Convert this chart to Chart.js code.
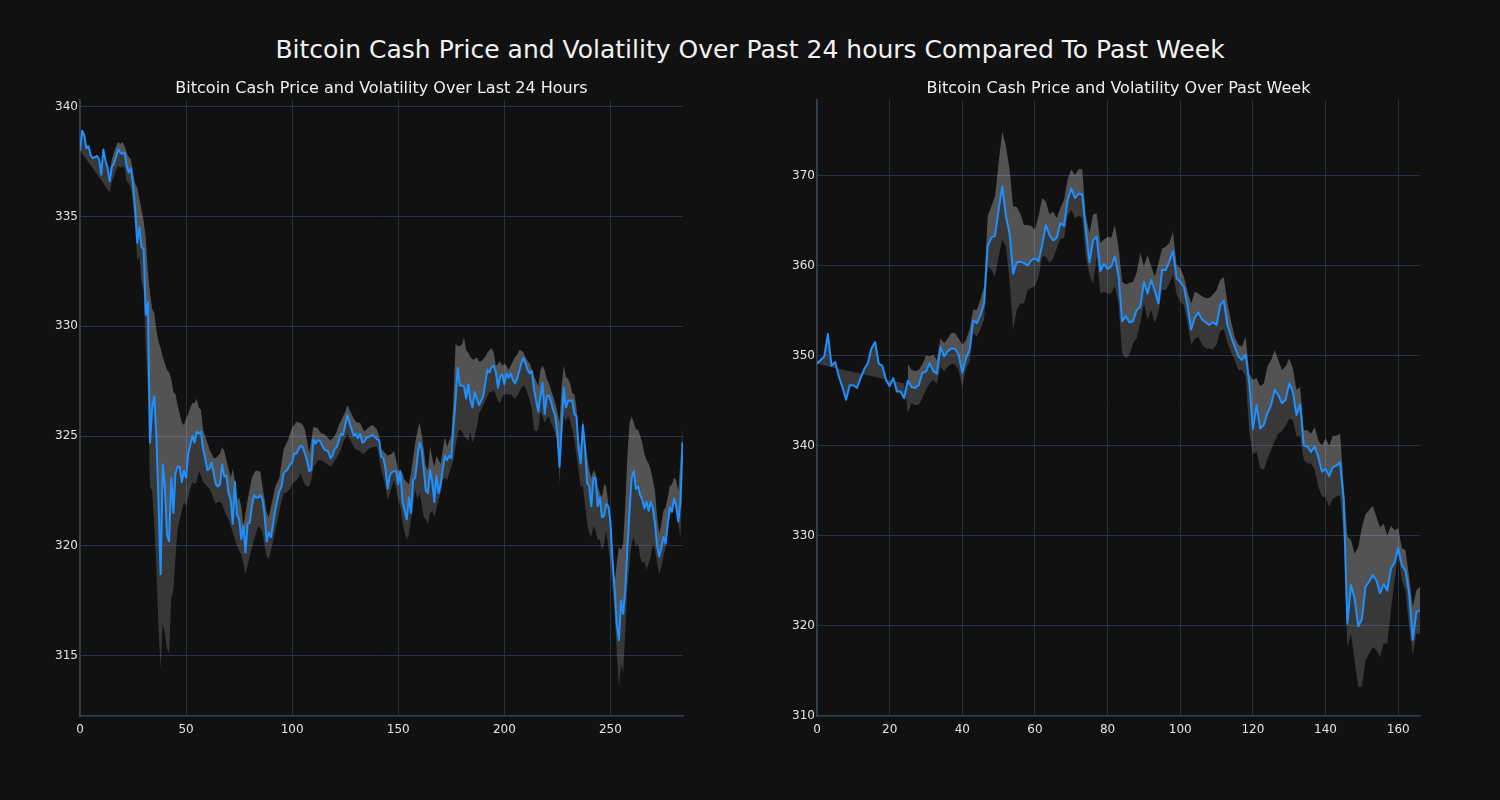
<!DOCTYPE html>
<html><head><meta charset="utf-8">
<script src="https://cdn.jsdelivr.net/npm/chart.js@4.4.1/dist/chart.umd.min.js"></script>
<style>
html,body{margin:0;padding:0;background:#111111;width:1500px;height:800px;overflow:hidden;}
#title{position:absolute;left:0;top:34px;width:1500px;text-align:center;font-family:'DejaVu Sans';font-size:25px;color:#f2f2f2;line-height:32px;white-space:nowrap;}
canvas{position:absolute;top:0;}
#c1{left:0px} #c2{left:750px}
</style></head><body>
<div id="title">Bitcoin Cash Price and Volatility Over Past 24 hours Compared To Past Week</div>
<canvas id="c1" width="750" height="800"></canvas>
<canvas id="c2" width="750" height="800"></canvas>
<script>
// ---- Left chart: last 24 hours (5-minute steps) ----
const dayTitle = 'Bitcoin Cash Price and Volatility Over Last 24 Hours';
const dayXTicks = [0, 50, 100, 150, 200, 250];
const dayYTicks = [315, 320, 325, 330, 335, 340];
const dayPrice = [
338.0,338.9,338.7,338.1,338.2,337.8,337.65,337.7,337.75,337.6,
336.9,338.05,337.55,337.2,336.6,337.25,337.4,337.7,338.05,337.9,
337.85,337.9,337.3,337.0,337.2,336.4,335.3,333.8,334.5,333.6,
333.5,330.5,331.1,324.7,326.3,326.8,325.0,322.0,318.7,323.7,
322.7,320.5,320.2,323.1,321.5,323.3,323.6,323.6,322.9,323.4,
323.1,324.2,324.6,325.0,324.7,325.2,325.1,325.2,324.4,324.0,
323.45,323.5,323.8,323.3,322.8,322.7,322.8,323.7,323.15,323.2,
322.4,322.1,321.0,322.9,321.4,321.2,320.3,320.9,319.7,321.0,
321.05,321.8,322.3,322.2,322.2,322.3,322.1,321.4,320.2,320.6,
320.4,321.0,321.6,322.1,322.5,322.7,323.3,323.4,323.5,323.7,
323.8,324.2,324.2,324.4,324.55,324.5,324.2,323.9,323.4,323.45,
324.85,324.65,324.8,324.8,324.6,324.4,324.35,324.3,324.0,324.1,
324.4,324.5,324.8,325.1,325.05,325.5,325.95,325.6,325.3,325.0,
325.1,324.9,325.1,324.7,324.75,324.9,324.95,325.0,325.05,324.95,
324.85,324.8,324.05,324.0,323.5,322.6,323.2,323.35,323.4,323.4,
322.8,323.4,322.0,321.6,321.2,322.2,321.5,323.0,323.1,324.0,
324.7,324.4,323.5,322.5,322.4,323.45,322.9,322.0,323.2,322.4,
322.8,323.5,324.1,323.9,324.1,324.0,325.4,326.6,328.1,327.3,
327.3,327.25,326.7,327.35,326.6,326.3,327.0,326.7,326.4,326.6,
326.8,327.4,328.0,327.9,328.15,328.2,327.9,327.2,327.7,327.8,
327.35,327.85,327.65,327.85,327.55,327.4,327.6,327.95,328.3,328.55,
328.3,328.0,327.85,327.95,327.1,326.6,326.1,326.8,327.4,326.0,
326.8,326.85,326.55,326.2,325.9,325.1,323.6,325.4,327.2,326.3,
326.6,326.6,326.6,326.0,325.9,324.4,323.75,325.5,324.5,322.85,
322.7,321.8,323.1,323.1,321.8,322.2,321.3,321.35,321.9,321.8,
321.1,319.3,318.0,316.4,315.7,317.5,316.9,318.0,319.9,321.6,
323.1,323.4,322.6,322.7,322.3,322.1,321.7,322.0,321.6,322.0,
321.7,321.0,320.0,319.5,319.9,320.4,320.1,321.0,321.75,321.55,
322.15,321.8,321.1,322.0,324.7
];
const dayUpper = [
null,null,null,null,null,null,null,null,null,null,
null,null,null,null,337.0,337.6,337.9,338.2,338.4,338.3,
338.4,338.2,337.9,337.7,337.6,337.0,336.5,336.3,335.8,335.3,
334.8,334.0,332.5,331.5,330.8,330.6,329.8,329.3,329.0,328.6,
328.3,328.0,327.9,327.6,327.0,326.9,326.4,326.0,325.6,325.5,
325.8,326.0,326.3,326.5,326.5,326.7,326.3,326.2,325.3,325.0,
324.7,324.4,324.2,324.0,324.0,324.1,324.2,324.5,324.3,323.9,
323.5,323.1,323.5,323.0,322.1,322.2,321.8,320.9,321.5,322.1,
322.6,323.1,323.3,323.45,323.4,323.4,322.7,322.1,321.5,321.3,
321.8,322.2,322.7,322.9,323.1,323.8,324.4,324.6,324.8,325.1,
325.4,325.5,325.65,325.6,325.6,325.5,325.3,324.8,324.2,324.8,
325.4,325.4,325.35,325.2,325.1,325.1,325.0,324.9,324.8,324.9,
325.0,325.2,325.5,325.7,325.9,326.1,326.4,326.2,326.0,325.8,
325.65,325.6,325.6,325.4,325.2,325.3,325.4,325.45,325.5,325.4,
325.3,325.0,324.4,324.3,324.2,324.1,324.15,324.2,324.3,323.9,
323.45,323.4,323.3,323.0,322.9,322.8,323.3,324.0,324.7,325.2,
325.6,325.1,324.4,323.6,323.45,324.5,324.0,323.6,324.1,323.9,
323.75,324.4,324.97,324.5,324.8,325.0,326.6,329.2,329.1,329.1,
329.15,329.5,328.9,328.8,328.6,328.5,328.5,328.6,328.4,328.4,
328.5,328.6,328.8,328.9,329.0,328.8,328.2,328.3,328.4,328.2,
328.3,328.2,328.0,328.2,328.4,328.6,328.7,328.9,328.9,328.8,
328.6,328.4,328.3,328.0,327.7,327.5,327.25,328.0,328.2,328.0,
327.6,327.4,327.1,326.8,326.5,326.1,325.6,327.25,328.2,327.7,
327.6,327.4,326.95,326.9,326.3,324.8,324.5,325.8,324.8,324.1,
323.45,323.1,323.45,323.3,322.7,322.4,322.2,322.8,322.7,321.9,
320.4,319.2,318.3,319.2,319.95,319.8,320.1,321.9,324.1,325.6,
325.9,325.6,325.3,325.3,325.0,324.7,324.2,323.9,323.75,323.45,
323.0,322.5,321.3,320.55,321.0,321.6,321.75,322.2,322.7,322.8,
323.1,323.0,322.5,323.9,325.4
];
const dayLower = [
338.0,null,null,null,null,null,null,null,null,null,
null,null,null,null,336.1,336.6,336.8,337.1,337.3,337.2,
337.3,337.2,336.6,336.5,336.3,335.6,334.5,333.0,333.2,332.0,
331.6,329.0,327.0,322.7,322.5,321.0,319.0,316.2,314.4,316.5,
316.0,315.3,315.1,317.6,318.0,319.5,320.8,321.2,321.6,322.0,
321.8,322.2,322.6,322.9,322.8,322.9,323.4,323.2,322.9,322.8,
322.7,322.6,322.4,322.1,321.9,322.0,322.0,321.9,321.6,321.4,
321.2,320.9,320.6,320.3,320.0,319.8,319.6,319.2,318.7,319.1,
319.5,319.9,320.3,320.6,320.9,320.8,320.6,320.0,319.5,319.4,
319.8,320.2,320.7,321.1,321.6,322.0,322.4,322.4,322.5,322.6,
322.8,322.9,323.0,323.1,323.3,323.0,322.8,322.7,322.7,323.0,
323.6,323.7,323.9,323.9,323.9,323.8,323.75,323.7,323.6,323.7,
323.9,324.0,324.2,324.4,324.7,324.9,325.1,324.9,324.7,324.5,
324.4,324.35,324.3,324.2,324.2,324.3,324.4,324.45,324.5,324.5,
324.5,324.0,323.45,323.1,322.7,322.1,322.4,322.7,323.0,322.6,
322.1,321.8,321.05,320.6,320.3,320.5,321.2,321.8,322.6,322.1,
322.4,321.9,321.3,321.2,321.0,321.5,321.6,321.3,321.7,322.1,
322.4,323.0,323.1,323.0,323.3,323.6,323.9,324.5,325.1,325.3,
325.2,325.0,324.9,324.8,325.2,324.7,325.0,325.4,326.0,326.2,
326.4,326.6,326.8,327.0,327.0,327.1,326.9,326.6,326.5,326.8,
326.9,326.9,326.9,326.9,326.8,326.7,326.8,327.0,327.2,327.3,
327.2,326.9,326.6,326.2,325.3,325.2,325.3,326.1,325.9,325.6,
325.8,325.9,325.6,325.4,325.1,324.8,322.8,324.8,325.9,325.7,
325.9,325.7,325.3,324.8,324.1,323.4,322.7,322.7,321.9,321.0,
320.6,320.4,320.9,320.7,320.25,320.3,319.8,320.1,320.7,319.95,
319.2,318.0,316.9,315.1,313.55,314.6,314.2,316.1,318.1,319.2,
320.1,320.4,319.95,320.1,319.5,319.2,319.3,318.9,319.2,319.5,
320.1,319.8,319.2,318.7,319.0,319.5,319.95,320.7,321.3,321.6,
322.0,321.8,321.0,320.4,323.0
];

// ---- Right chart: past week (hourly steps) ----
const weekTitle = 'Bitcoin Cash Price and Volatility Over Past Week';
const weekXTicks = [0, 20, 40, 60, 80, 100, 120, 140, 160];
const weekYTicks = [310, 320, 330, 340, 350, 360, 370];
const weekPrice = [
349.1,349.5,349.9,352.4,348.85,349.3,347.7,346.5,345.1,346.7,
346.7,346.4,347.5,348.5,349.15,350.8,351.5,349.1,348.85,347.3,
346.6,347.5,346.0,346.0,345.25,347.2,346.5,346.4,346.7,348.1,
348.2,349.15,348.3,348.0,350.9,349.9,350.5,350.8,350.75,350.1,
348.1,349.7,350.6,353.9,353.6,354.5,355.8,362.2,363.1,363.3,
366.2,368.8,365.5,363.6,359.1,360.4,360.4,360.3,360.0,360.6,
360.8,360.5,362.3,364.5,363.4,362.8,363.1,364.7,364.4,367.3,
368.55,367.5,368.0,367.9,364.0,360.35,362.8,363.2,359.4,360.2,
359.6,359.9,361.0,358.9,353.8,354.4,353.7,353.8,355.1,355.4,
358.2,356.9,358.4,357.2,355.8,359.5,359.5,360.5,361.6,358.6,
358.2,357.6,355.5,352.9,354.2,354.8,354.0,353.7,353.4,353.7,
353.4,355.6,356.1,353.4,352.1,351.0,349.9,349.5,350.1,346.9,
341.8,344.5,341.9,342.3,343.6,344.5,346.2,345.6,344.7,345.1,
346.9,346.0,343.4,344.6,340.0,339.9,339.3,339.9,338.7,337.1,
337.4,336.6,337.6,337.8,338.1,333.9,320.2,324.5,323.0,319.9,
320.7,324.3,324.9,325.6,325.0,323.6,324.6,323.9,326.3,327.0,
328.6,326.7,326.1,323.6,318.4,321.5,321.7
];
const weekUpper = [
null,null,null,null,null,null,null,null,null,null,
null,null,null,null,null,null,null,null,null,null,
null,null,null,null,null,349.1,348.4,348.3,348.4,349.0,
350.0,349.9,350.1,349.5,351.9,351.4,351.9,352.5,352.5,351.9,
351.2,351.7,352.9,355.1,355.1,356.2,357.7,365.5,366.6,367.7,
371.4,374.9,373.3,370.7,366.6,366.5,365.8,364.5,364.5,364.4,
364.0,365.5,367.5,367.1,365.7,366.0,365.3,366.4,367.3,369.6,
370.7,370.1,370.7,370.7,365.5,363.6,365.7,365.8,362.5,362.9,
363.2,363.1,364.5,362.1,358.2,357.9,358.1,358.2,359.2,361.4,
359.9,361.2,359.9,358.8,360.3,361.9,362.1,362.5,363.8,360.1,
359.7,358.8,357.1,355.8,357.1,356.9,356.6,356.4,356.4,356.8,
357.3,358.4,358.7,355.8,353.8,352.1,351.2,351.0,352.1,348.0,
347.3,347.5,346.6,346.9,348.8,349.5,350.6,349.5,348.4,348.8,
349.7,348.6,346.2,346.5,341.7,341.7,341.3,342.1,340.6,340.0,
340.8,340.0,341.1,341.1,341.3,335.5,329.9,329.5,328.0,328.7,
330.9,332.4,332.8,333.3,332.1,330.9,331.3,330.0,331.1,330.6,
330.8,328.6,328.4,325.4,322.1,323.9,324.3
];
const weekLower = [
349.1,null,null,null,null,null,null,null,null,null,
null,null,null,null,null,null,null,null,null,null,
null,null,null,null,346.9,343.6,344.7,344.5,344.5,345.3,
346.2,346.9,347.3,346.9,348.8,348.2,348.8,349.1,349.0,348.4,
346.5,348.6,349.3,352.5,352.1,352.9,354.0,359.9,359.5,358.8,
361.0,362.9,362.1,358.4,352.9,355.1,355.8,355.8,357.3,357.5,
357.7,358.8,361.0,361.0,360.3,360.8,361.9,363.0,363.0,365.5,
366.2,365.3,365.5,365.3,361.0,359.0,357.9,361.0,356.9,357.1,
356.9,356.9,357.7,355.8,350.3,349.7,350.1,351.4,351.9,353.6,
355.8,354.0,355.1,353.6,354.9,357.3,357.3,358.0,359.0,356.8,
356.0,355.6,353.6,351.2,351.9,352.1,351.2,350.8,350.8,350.7,
351.2,352.7,352.9,351.4,350.3,349.5,348.4,348.4,347.7,341.5,
339.0,339.3,337.5,337.3,338.5,339.5,340.5,341.3,341.6,342.2,
343.0,342.8,341.0,341.0,338.4,338.0,338.0,337.3,335.4,334.3,
334.3,333.2,334.1,334.3,334.5,330.0,317.6,319.1,316.1,313.2,
313.2,316.1,316.9,317.6,317.3,316.5,318.0,318.0,321.7,325.0,
328.0,325.0,323.9,319.9,316.7,319.1,319.1
];

const FONT = 'DejaVu Sans';
const GRID = '#283140';
const SPINE = '#34404f';
const TICKTXT = '#e4e4e4';

function pts(arr) {
  const out = [];
  arr.forEach((v, i) => { if (v !== null) out.push({x: i, y: v}); });
  return out;
}

function makeChart(id, title, price, upper, lower, xMax, yMin, yMax, xTicks, yTicks, pad) {
  new Chart(document.getElementById(id), {
    type: 'line',
    data: { datasets: [
      { data: pts(price), borderColor: '#1e90ff', borderWidth: 2, pointRadius: 0, fill: false, tension: 0, borderJoinStyle: 'round' },
      { data: pts(upper), borderColor: 'rgba(0,0,0,0)', borderWidth: 0, pointRadius: 0, tension: 0,
        fill: { target: 0 }, backgroundColor: 'rgba(255,255,255,0.28)' },
      { data: pts(lower), borderColor: 'rgba(0,0,0,0)', borderWidth: 0, pointRadius: 0, tension: 0,
        fill: { target: 0 }, backgroundColor: 'rgba(255,255,255,0.165)' }
    ]},
    options: {
      responsive: false, animation: false, devicePixelRatio: 1,
      layout: { padding: pad },
      plugins: {
        legend: { display: false }, tooltip: { enabled: false },
        title: { display: true, text: title, fullSize: false, color: '#f0f0f0',
          font: { family: FONT, size: 16, weight: 'normal', lineHeight: 1.2 },
          padding: { top: 0, bottom: 1.8 } }
      },
      scales: {
        x: { type: 'linear', min: 0, max: xMax,
          afterBuildTicks: s => { s.ticks = xTicks.map(v => ({ value: v })); },
          afterFit: s => { s.height = 30; },
          grid: { color: GRID, lineWidth: 1, drawTicks: false },
          border: { color: SPINE, width: 1.5 },
          ticks: { color: TICKTXT, font: { family: FONT, size: 12 }, padding: 7, maxRotation: 0, autoSkip: false,
            callback: v => String(v) } },
        y: { type: 'linear', min: yMin, max: yMax,
          afterBuildTicks: s => { s.ticks = yTicks.map(v => ({ value: v })); },
          afterFit: s => { s.width = 45; },
          grid: { color: GRID, lineWidth: 1, drawTicks: false },
          border: { color: SPINE, width: 1.5 },
          ticks: { color: TICKTXT, font: { family: FONT, size: 12 }, padding: 2, autoSkip: false,
            callback: v => String(v) } }
      }
    }
  });
}

makeChart('c1', dayTitle, dayPrice, dayUpper, dayLower, 284.2, 312.25, 340.3, dayXTicks, dayYTicks,
  { left: 35, right: 67, top: 79, bottom: 54 });
makeChart('c2', weekTitle, weekPrice, weekUpper, weekLower, 166, 309.95, 378.4, weekXTicks, weekYTicks,
  { left: 22, right: 80, top: 79, bottom: 54 });
</script>
</body></html>
